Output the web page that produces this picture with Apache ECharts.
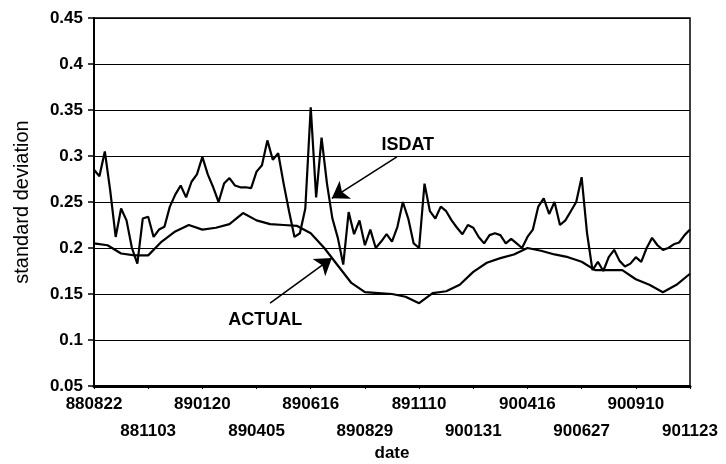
<!DOCTYPE html>
<html>
<head>
<meta charset="utf-8">
<script src="https://cdn.jsdelivr.net/npm/echarts@6/dist/echarts.min.js"></script>
<style>
  html, body { margin: 0; padding: 0; background: #fff; }
  #main { width: 726px; height: 464px; }
</style>
</head>
<body>
<div id="main"></div>
<script>
// tick labels on the date axis (one per label step)
var dateLabels = ['880822', '881103', '890120', '890405', '890616', '890829',
  '891110', '900131', '900416', '900627', '900910', '901123'];

// ISDAT, sampled every 1/10 of a label step
var isdat = [
  0.285, 0.278, 0.305, 0.262, 0.212, 0.243, 0.23, 0.2, 0.183, 0.232,
  0.234, 0.212, 0.22, 0.223, 0.245, 0.258, 0.268, 0.255, 0.272, 0.28,
  0.299, 0.28, 0.266, 0.25, 0.27, 0.276, 0.268, 0.266, 0.266, 0.265,
  0.283, 0.29, 0.317, 0.296, 0.303, 0.27, 0.24, 0.212, 0.216, 0.243,
  0.353, 0.255, 0.32, 0.27, 0.232, 0.211, 0.182, 0.239, 0.215, 0.23,
  0.203, 0.22, 0.2, 0.207, 0.215, 0.207, 0.223, 0.25, 0.232, 0.205,
  0.2, 0.27, 0.24, 0.232, 0.245, 0.24, 0.23, 0.222, 0.215, 0.225,
  0.222, 0.212, 0.205, 0.214, 0.216, 0.214, 0.205, 0.21, 0.205, 0.2,
  0.212, 0.22, 0.245, 0.254, 0.237, 0.25, 0.225, 0.23, 0.24, 0.25,
  0.277, 0.216, 0.176, 0.185, 0.175, 0.19, 0.198, 0.186, 0.18, 0.183,
  0.19, 0.185, 0.2, 0.211, 0.203, 0.198, 0.2, 0.204, 0.206, 0.214,
  0.22
];

// ACTUAL, sampled every 1/4 of a label step
var actual = [
  0.205, 0.203, 0.194, 0.192, 0.192, 0.207, 0.218, 0.225, 0.22, 0.222,
  0.226, 0.238, 0.23, 0.226, 0.225, 0.224, 0.216, 0.2, 0.181, 0.162,
  0.152, 0.151, 0.15, 0.147, 0.14, 0.151, 0.153, 0.16, 0.174, 0.184,
  0.189, 0.193, 0.2, 0.197, 0.193, 0.19, 0.185, 0.176, 0.176, 0.176,
  0.166, 0.16, 0.152, 0.16, 0.172
];

var isdatStep = 0.1;
var actualStep = 0.25;

function toPairs(arr, step) {
  return arr.map(function (v, i) { return [+(i * step).toFixed(3), v]; });
}

var chartDom = document.getElementById('main');
var myChart = echarts.init(chartDom);

var font = 'Liberation Sans, Arial, sans-serif';
var labelFont = { color: '#000', fontFamily: font, fontWeight: 'bold', fontSize: 17 };

// two label rows: even labels on the first, odd ones on the second
function dateAxis(row) {
  return {
    type: 'value',
    position: 'bottom',
    offset: row === 0 ? 0 : 27,
    min: 0,
    max: dateLabels.length - 1,
    interval: 1,
    name: row === 0 ? '' : 'date',
    nameLocation: 'middle',
    nameGap: 24,
    nameTextStyle: { color: '#000', fontFamily: font, fontWeight: 'bold', fontSize: 17 },
    axisLine: { show: row === 0, lineStyle: { color: '#000', width: 3 } },
    axisTick: { show: row === 0, length: 3, lineStyle: { color: '#000' } },
    splitLine: { show: false },
    axisLabel: Object.assign({
      margin: 10,
      hideOverlap: false,
      showMinLabel: true,
      showMaxLabel: true,
      formatter: function (v) {
        var i = Math.round(v);
        return i % 2 === row ? dateLabels[i] : '';
      }
    }, labelFont)
  };
}

var option = {
  animation: false,
  backgroundColor: '#fff',
  grid: {
    left: 94, right: 36, top: 18, bottom: 78,
    outerBoundsMode: 'none',
    containLabel: false,
    show: true, borderColor: '#000', borderWidth: 1.5
  },
  xAxis: [dateAxis(0), dateAxis(1)],
  yAxis: {
    type: 'value',
    min: 0.05,
    max: 0.45,
    interval: 0.05,
    name: 'standard deviation',
    nameLocation: 'middle',
    nameGap: 62,
    nameTextStyle: { color: '#000', fontFamily: font, fontSize: 20 },
    axisLine: { show: true, lineStyle: { color: '#000', width: 2 } },
    axisTick: { show: true, length: 6, lineStyle: { color: '#000', width: 1.5 } },
    splitLine: { show: true, lineStyle: { color: '#000', width: 1.2 } },
    axisLabel: Object.assign({
      margin: 11,
      formatter: function (v) { return String(+v.toFixed(2)); }
    }, labelFont)
  },
  series: [
    {
      name: 'ISDAT',
      type: 'line',
      data: toPairs(isdat, isdatStep),
      symbol: 'none',
      lineStyle: { color: '#000', width: 2.2 },
      z: 3,
      markLine: {
        silent: true,
        symbol: ['none', 'arrow'],
        symbolSize: 16,
        lineStyle: { color: '#000', width: 1.6, type: 'solid' },
        label: { show: false },
        data: [
          [{ coord: [5.59, 0.299] }, { coord: [4.39, 0.254] }],
          [{ coord: [3.25, 0.14] }, { coord: [4.39, 0.189] }]
        ]
      },
      markPoint: {
        silent: true,
        symbol: 'circle',
        symbolSize: 0,
        label: {
          show: true,
          color: '#000',
          fontFamily: font,
          fontWeight: 'bold',
          fontSize: 18,
          formatter: '{b}'
        },
        data: [
          { name: 'ISDAT', coord: [5.79, 0.312] },
          { name: 'ACTUAL', coord: [3.16, 0.122] }
        ]
      }
    },
    {
      name: 'ACTUAL',
      type: 'line',
      data: toPairs(actual, actualStep),
      symbol: 'none',
      lineStyle: { color: '#000', width: 2.2 },
      z: 3
    }
  ]
};

myChart.setOption(option);
</script>
</body>
</html>
